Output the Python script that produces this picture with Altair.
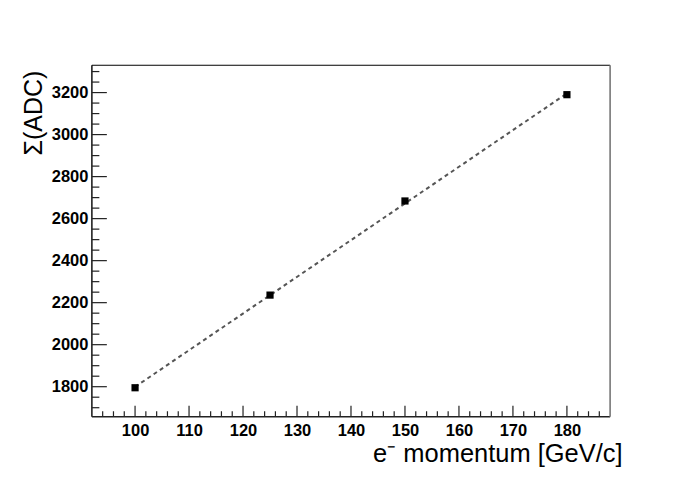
import altair as alt
import pandas as pd

# data
momentum = [100, 125, 150, 180]
adc_sum = [1795, 2236, 2684, 3190]
fit_x = [100, 180]
fit_y = [1799, 3196]

x_major = [100, 110, 120, 130, 140, 150, 160, 170, 180]
x_minor = [94, 96, 98, 102, 104, 106, 108, 112, 114, 116, 118, 122, 124, 126, 128,
           132, 134, 136, 138, 142, 144, 146, 148, 152, 154, 156, 158, 162, 164, 166, 168,
           172, 174, 176, 178, 182, 184, 186]
y_major = [1800, 2000, 2200, 2400, 2600, 2800, 3000, 3200]
y_minor = [1700, 1750, 1850, 1900, 1950, 2050, 2100, 2150, 2250, 2300, 2350, 2450, 2500,
           2550, 2650, 2700, 2750, 2850, 2900, 2950, 3050, 3100, 3150, 3250, 3300]

W, H = 519, 352
FONT = "Liberation Sans"

xs = alt.Scale(domain=[92, 188], nice=False, zero=False)
ys = alt.Scale(domain=[1657, 3330], nice=False, zero=False)

pts = pd.DataFrame({"x": momentum, "y": adc_sum})
fit = pd.DataFrame({"x": fit_x, "y": fit_y})

x_axis = alt.Axis(values=x_major, format="d", ticks=False, tickSize=0, domain=False, grid=False,
                  labelFont=FONT, labelFontSize=16.5, labelFontWeight="bold",
                  labelColor="black", labelPadding=6,
                  title="e\u207b momentum [GeV/c]", titleFont=FONT, titleFontSize=25.5,
                  titleFontWeight="normal", titleColor="black", titleAlign="right",
                  titleBaseline="alphabetic", titleX=531, titleY=45, titleAngle=0)
y_axis = alt.Axis(values=y_major, format="d", ticks=False, tickSize=0, domain=False, grid=False,
                  labelFont=FONT, labelFontSize=16.5, labelFontWeight="bold",
                  labelColor="black", labelPadding=4,
                  title="\u03a3(ADC)", titleFont=FONT, titleFontSize=25,
                  titleFontWeight="normal", titleColor="black", titleAlign="right",
                  titleBaseline="alphabetic", titleX=-50, titleY=5, titleAngle=270)

line = alt.Chart(fit).mark_line(color="#555555", strokeWidth=2, strokeDash=[4, 3.5]).encode(
    x=alt.X("x:Q", scale=xs, axis=x_axis),
    y=alt.Y("y:Q", scale=ys, axis=y_axis),
)
points = alt.Chart(pts).mark_square(size=52, color="black", opacity=1).encode(
    x=alt.X("x:Q", scale=xs),
    y=alt.Y("y:Q", scale=ys),
)

def xticks(vals, length):
    return alt.Chart(pd.DataFrame({"v": vals})).mark_rule(color="#222222", strokeWidth=1.2).encode(
        x=alt.X("v:Q", scale=xs), y=alt.value(H), y2=alt.value(H - length))

def yticks(vals, length):
    return alt.Chart(pd.DataFrame({"v": vals})).mark_rule(color="#222222", strokeWidth=1.2).encode(
        y=alt.Y("v:Q", scale=ys), x=alt.value(0), x2=alt.value(length))

frame_df = pd.DataFrame({"k": [0]})
left = alt.Chart(frame_df).mark_rule(color="#222222", strokeWidth=1.6).encode(
    x=alt.value(0), y=alt.value(0), y2=alt.value(H))
bottom = alt.Chart(frame_df).mark_rule(color="#222222", strokeWidth=1.6).encode(
    x=alt.value(0), x2=alt.value(W), y=alt.value(H))
top = alt.Chart(frame_df).mark_rule(color="black", strokeWidth=1).encode(
    x=alt.value(0), x2=alt.value(W), y=alt.value(0))
right = alt.Chart(frame_df).mark_rule(color="#777777", strokeWidth=1.6).encode(
    x=alt.value(W), y=alt.value(0), y2=alt.value(H))

chart = alt.layer(
    line, points,
    xticks(x_major, 11), xticks(x_minor, 5.5),
    yticks(y_major, 15), yticks(y_minor, 7.5),
    left, bottom, top, right,
).properties(
    width=W, height=H,
    autosize=alt.AutoSizeParams(type="none"),
    padding={"left": 84, "top": 57, "right": 70, "bottom": 60},
    background="white",
).configure_view(stroke=None)

chart.save("out.html", embed_options={"renderer": "svg", "actions": False})
